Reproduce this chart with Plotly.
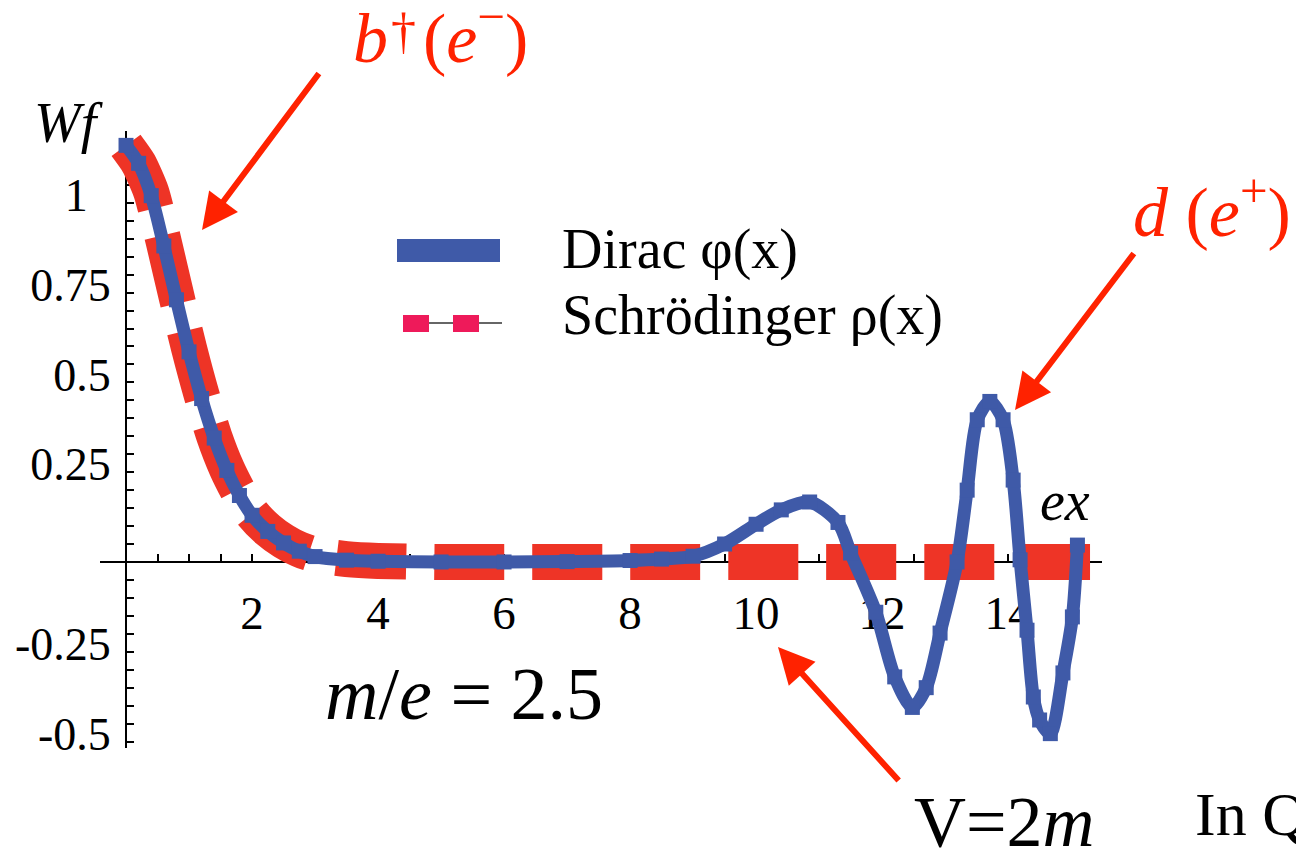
import plotly.graph_objects as go

# page has an 8px body margin; size the figure so it fits the 1304x859 window
OFF = 8
W, H = 1304 - 2 * OFF, 859 - 2 * OFF

# ---------------- data ----------------
x_dirac = [0, 0.2, 0.4, 0.6, 0.8, 1.0, 1.2, 1.4, 1.6, 1.8, 2.0, 2.25, 2.5, 2.75, 3.0,
           3.5, 4.0, 5.0, 6.0, 7.0, 8.0, 8.5, 9.0, 9.5, 10.0, 10.4, 10.85, 11.3, 11.5,
           11.9, 12.2, 12.48, 12.7, 12.92, 13.19, 13.35, 13.51, 13.71, 13.92, 14.08,
           14.19, 14.3, 14.4, 14.5, 14.67, 14.87, 15.02, 15.1]
y_dirac = [1.16, 1.11, 1.02, 0.88, 0.73, 0.585, 0.455, 0.345, 0.255, 0.185, 0.13, 0.085,
           0.053, 0.03, 0.015, 0.005, 0.002, 0.0, 0.0, 0.001, 0.004, 0.008, 0.016, 0.05,
           0.105, 0.145, 0.167, 0.11, 0.025, -0.14, -0.32, -0.405, -0.35, -0.198, 0.0,
           0.2, 0.396, 0.447, 0.396, 0.228, 0.006, -0.19, -0.376, -0.44, -0.478, -0.309,
           -0.153, 0.047]

x_schr = [0, 0.2, 0.4, 0.6, 0.8, 1.0, 1.2, 1.4, 1.6, 1.8, 2.0, 2.25, 2.5, 2.75, 3.0,
          3.5, 4.0, 5.0, 6.0, 7.0, 8.0, 9.0, 10.0, 11.0, 12.0, 13.0, 14.0, 15.0, 15.3]
y_schr = [1.16, 1.11, 1.03, 0.89, 0.74, 0.595, 0.465, 0.35, 0.26, 0.19, 0.135, 0.09,
          0.058, 0.035, 0.02, 0.008, 0.003, 0.0, 0.0, 0.0, 0.0, 0.0, 0.0, 0.0, 0.0, 0.0,
          0.0, 0.0, 0.0]

x_ticks = [2, 4, 6, 8, 10, 12, 14]
x_ticklabels = ["2", "4", "6", "8", "10", "12", "14"]
y_ticks = [1, 0.75, 0.5, 0.25, -0.25, -0.5]
y_ticklabels = ["1\u2002", "0.75", "0.5", "0.25", "-0.25", "-0.5"]

names = ["Dirac φ(x)", "Schrödinger ρ(x)"]

# ---------------- style ----------------
BLUE = "#3F5AA8"
RED = "#EE3426"
PINK = "#EE1A5A"
ARROW = "#FF2200"
SERIF = "Liberation Serif"


def px(x):
    """screen pixel x -> paper fraction"""
    return (x - OFF) / W


def py(y):
    """screen pixel y -> paper fraction"""
    return 1 - (y - OFF) / H


# plot area in screen pixels
X0_PX, X1_PX = 100, 1102
Y_TOP_PX, Y_BOT_PX = 131, 748
XMIN, XMAX = -0.413, 15.49
YMIN, YMAX = -0.518, 1.2
ORIGIN_X_PX = 126
ORIGIN_Y_PX = 562

fig = go.Figure()

fig.add_trace(go.Scatter(
    x=x_schr, y=y_schr, mode="lines", name=names[1], showlegend=False,
    line=dict(color=RED, width=36, dash="70px,28px", shape="spline", smoothing=0.6),
))
fig.add_trace(go.Scatter(
    x=x_dirac, y=y_dirac, mode="lines+markers", name=names[0], showlegend=False,
    line=dict(color=BLUE, width=13, shape="spline", smoothing=0.8),
    marker=dict(symbol="square", size=15, color=BLUE),
))

fig.update_layout(
    width=W, height=H,
    margin=dict(l=0, r=0, t=0, b=0),
    paper_bgcolor="white", plot_bgcolor="white",
    showlegend=False,
    font=dict(family=SERIF, color="black"),
    xaxis=dict(
        domain=[px(X0_PX), px(X1_PX)], range=[XMIN, XMAX],
        anchor="free", position=py(ORIGIN_Y_PX),
        showgrid=False, zeroline=False, showline=True, linecolor="black", linewidth=2,
        ticks="inside", ticklen=7, tickwidth=2, tickcolor="black",
        tickmode="array", tickvals=x_ticks, ticktext=x_ticklabels,
        tickfont=dict(family=SERIF, size=47, color="black"),
        ticklabelstandoff=10,
        minor=dict(ticks="inside", dtick=0.5, tick0=0, ticklen=7, tickwidth=2,
                   tickcolor="black", showgrid=False),
        layer="below traces", automargin=False,
    ),
    yaxis=dict(
        domain=[py(Y_BOT_PX), py(Y_TOP_PX)], range=[YMIN, YMAX],
        anchor="free", position=px(ORIGIN_X_PX),
        showgrid=False, zeroline=False, showline=True, linecolor="black", linewidth=2,
        ticks="inside", ticklen=7, tickwidth=2, tickcolor="black",
        tickmode="array", tickvals=y_ticks, ticktext=y_ticklabels,
        tickfont=dict(family=SERIF, size=46, color="black"),
        ticklabelstandoff=5, ticklabelshift=-8,
        minor=dict(ticks="inside", dtick=0.05, tick0=0, ticklen=7, tickwidth=2,
                   tickcolor="black", showgrid=False),
        layer="below traces", automargin=False,
    ),
)

# ---------------- manual legend ----------------
shapes = [
    dict(type="rect", xref="paper", yref="paper", x0=px(397), x1=px(500),
         y0=py(262), y1=py(239), fillcolor=BLUE, line=dict(width=0)),
    dict(type="line", xref="paper", yref="paper", x0=px(403), x1=px(502),
         y0=py(323), y1=py(323), line=dict(color="#666666", width=2)),
    dict(type="rect", xref="paper", yref="paper", x0=px(403), x1=px(429),
         y0=py(332), y1=py(315), fillcolor=PINK, line=dict(width=0)),
    dict(type="rect", xref="paper", yref="paper", x0=px(453), x1=px(479),
         y0=py(332), y1=py(315), fillcolor=PINK, line=dict(width=0)),
]
fig.update_layout(shapes=shapes)


def text(x, y, s, size, color="black", xanchor="center"):
    fig.add_annotation(x=px(x), y=py(y), xref="paper", yref="paper", text=s,
                       showarrow=False, xanchor=xanchor, yanchor="middle",
                       font=dict(family=SERIF, size=size, color=color))


def arrow(tip_x, tip_y, tail_x, tail_y):
    fig.add_annotation(x=px(tip_x), y=py(tip_y), xref="paper", yref="paper",
                       ax=tail_x - tip_x, ay=tail_y - tip_y, axref="pixel", ayref="pixel",
                       text="", showarrow=True, arrowhead=2, arrowsize=1.2,
                       arrowwidth=6, arrowcolor=ARROW, standoff=0)


text(560, 249, names[0], 56, xanchor="left")
text(560, 315, names[1], 56, xanchor="left")

# b†(e−): dagger placed as its own small raised glyph so it is not clipped
text(440, 33, "<i>b</i>\u2002(<i>e</i><sup>−</sup>)", 70, color=ARROW)
text(403, 31, "†", 50, color=ARROW)
text(1212, 207, "<i>d</i> (<i>e</i><sup>+</sup>)", 70, color=ARROW)
text(106, 123, "<i>Wf</i>", 56, xanchor="right")
text(1065, 501, "<i>ex</i>", 56)
text(464, 694, "<i>m</i>/<i>e</i> = 2.5", 74)
text(1004, 822, "V=2<i>m</i>", 72)
text(1193, 814, "In Q", 62, xanchor="left")

arrow(202, 230, 320, 72)
arrow(1015, 410, 1135, 252)
arrow(778, 647, 900, 782)

fig.write_html("out.html")
